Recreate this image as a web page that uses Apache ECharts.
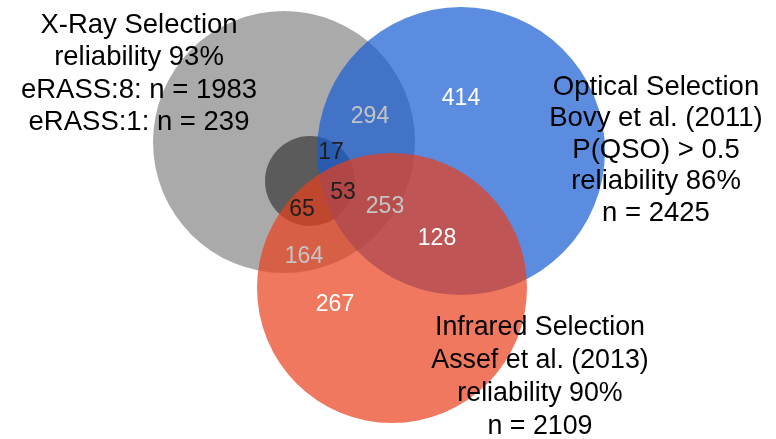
<!DOCTYPE html>
<html>
<head>
<meta charset="utf-8">
<script src="https://cdn.jsdelivr.net/npm/echarts@6/dist/echarts.min.js"></script>
<style>
  html, body { margin: 0; padding: 0; background: #fff; }
  #chartBox { width: 776px; height: 439px; }
</style>
</head>
<body>
<div id="chartBox"></div>
<script>
// diagram space: x 0..776, y 0..439 (y grows downward)
const setNames = ["X-Ray eRASS:8", "eRASS:1", "Optical", "Infrared"];
const circleX = [284, 310, 461, 392];
const circleY = [142, 181, 151, 288];
const circleR = [131, 45, 144, 135];
const circleColors = [
  "#aaaaaa",
  "#5b5b5b",
  "rgba(22, 91, 211, 0.7)",
  "rgba(233, 62, 26, 0.7)"
];

// region counts
const counts = [294, 414, 17, 53, 65, 253, 128, 164, 267];
const countX = [370, 461, 331, 343, 302, 385, 437, 304, 335];
const countY = [117, 99, 153, 193, 210, 207, 239, 257, 305];
const countColors = ["#c4c4c4", "#ffffff", "#1e1e1e", "#1e1e1e", "#1e1e1e", "#c4c4c4", "#ffffff", "#c4c4c4", "#ffffff"];

// set descriptions
const blockText = [
  "X-Ray Selection\nreliability 93%\neRASS:8: n = 1983\neRASS:1: n = 239",
  "Optical Selection\nBovy et al. (2011)\nP(QSO) > 0.5\nreliability 86%\nn = 2425",
  "Infrared Selection\nAssef et al. (2013)\nreliability 90%\nn = 2109"
];
const blockX = [139, 656, 540];
const blockY = [74, 150, 377];
const blockFontSize = [27.5, 27.5, 26.8];
const blockLineHeight = [32.3, 31.5, 33];

const chart = echarts.init(document.getElementById("chartBox"));

const option = {
  backgroundColor: "#ffffff",
  animation: false,
  grid: { left: 0, right: 0, top: 0, bottom: 0 },
  xAxis: { type: "value", min: 0, max: 776, show: false },
  yAxis: { type: "value", min: 0, max: 439, inverse: true, show: false },
  series: [
    {
      type: "custom",
      name: "sets",
      data: setNames.map((n, i) => [circleX[i], circleY[i], circleR[i], i]),
      renderItem: function (params, api) {
        const c = api.coord([api.value(0), api.value(1)]);
        const r = api.size([api.value(2), 0])[0];
        return {
          type: "circle",
          shape: { cx: c[0], cy: c[1], r: r },
          style: { fill: circleColors[api.value(3)] }
        };
      },
      silent: true
    },
    {
      type: "custom",
      name: "counts",
      data: counts.map((v, i) => [countX[i], countY[i], v, i]),
      renderItem: function (params, api) {
        const c = api.coord([api.value(0), api.value(1)]);
        return {
          type: "text",
          x: c[0],
          y: c[1],
          style: {
            text: String(api.value(2)),
            fill: countColors[api.value(3)],
            fontSize: 23,
            fontFamily: "Liberation Sans, Arial, sans-serif",
            align: "center",
            verticalAlign: "middle"
          }
        };
      },
      silent: true
    },
    {
      type: "custom",
      name: "descriptions",
      data: blockText.map((t, i) => [blockX[i], blockY[i], i]),
      renderItem: function (params, api) {
        const i = api.value(2);
        const c = api.coord([api.value(0), api.value(1)]);
        return {
          type: "text",
          x: c[0],
          y: c[1],
          style: {
            text: blockText[i],
            fill: "#000000",
            fontSize: blockFontSize[i],
            lineHeight: blockLineHeight[i],
            fontFamily: "Liberation Sans, Arial, sans-serif",
            align: "center",
            verticalAlign: "middle"
          }
        };
      },
      silent: true
    }
  ]
};

option && chart.setOption(option);
</script>
</body>
</html>
